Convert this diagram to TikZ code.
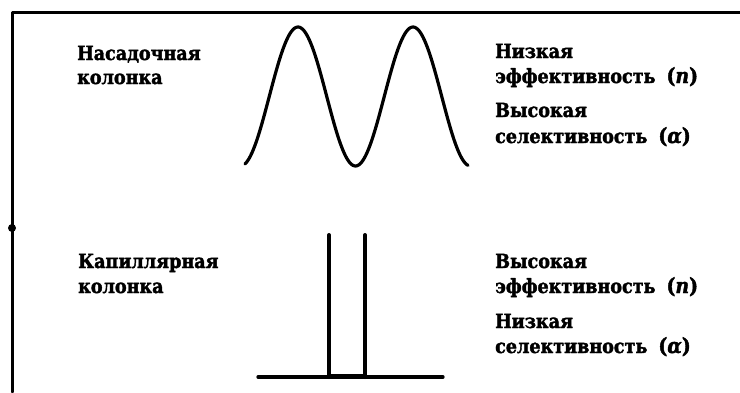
\documentclass[tikz,border=0pt]{standalone}
\usepackage{fontspec}
\setmainfont{DejaVu Serif}[BoldFeatures={FakeBold=2,FakeStretch=0.9},BoldItalicFeatures={FakeBold=1.5,FakeStretch=0.9}]
\begin{document}
\begin{tikzpicture}[x=1pt,y=-1pt,line join=round,line cap=round,
	lbl/.style={anchor=base west,inner sep=0pt,font=\bfseries\fontsize{19.5}{22}\selectfont}]
	\useasboundingbox (0,0) rectangle (740,392);
	\def\fx{96.5-69.5*cos(3.1304*(\x-298))}
	\def\sym#1{\hspace{11pt}{\fontsize{21}{22}\selectfont(\textit{#1})}}
	\draw[line width=3pt] (740,12)--(12,12)--(12,392);
	\fill (12,228) circle (4pt);
	\draw[line width=3.2pt,samples=160,domain=245:468,smooth] plot(\x,{\fx});
	
	\draw[line width=3.3pt] (258,377)--(443,377);
	\draw[line width=4pt] (329,235)--(329,377) (365,235)--(365,377);
	\draw[line width=4.5pt] (329,376)--(365,376);
	
	\foreach \nm/\x/\y/\t in {pk1/77/60/Насадочная, pk2/77/84/колонка,
		cp1/78/268/Капиллярная, cp2/78/293/колонка,
		pkEff/495/58/Низкая, pkSel/495/117/Высокая,
		cpEff/495/268/Высокая, cpSel/495/328/Низкая}
	\node[lbl] (\nm) at (\x,\y) {\t};
	\foreach \nm/\y in {pkN/83, cpN/293}
	\node[lbl] (\nm) at (495,\y) {эффективность\sym{n}};
	\foreach \nm/\y in {pkA/143, cpA/353}
	\node[lbl] (\nm) at (495,\y) {селективность\sym{α}};
\end{tikzpicture}
\end{document}
